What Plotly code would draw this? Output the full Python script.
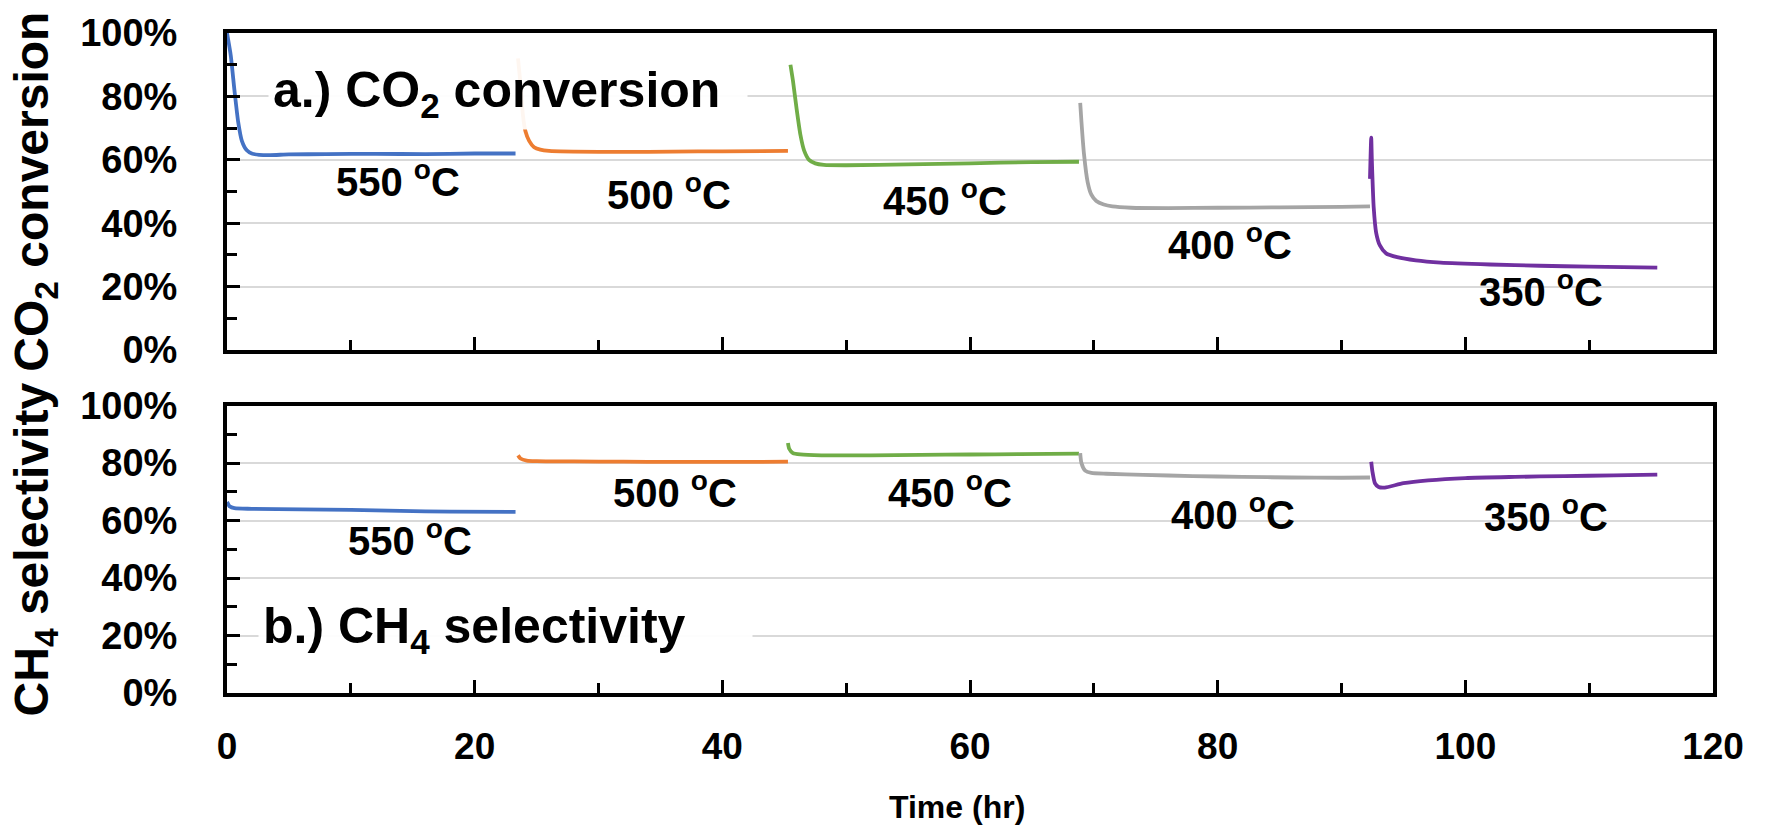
import plotly.graph_objects as go

# ---------------- data ----------------
series_names = ["550 °C", "500 °C", "450 °C", "400 °C", "350 °C"]
colors = ["#4472C4", "#ED7D31", "#70AD47", "#A5A5A5", "#7030A0"]

# (a) CO2 conversion (%)
co2_t_550 = [0.0, 0.3, 0.6, 0.9, 1.2, 1.6, 2.0, 2.6, 3.5, 5, 8, 12, 16, 20, 23.3]
co2_v_550 = [100, 93, 82, 72, 66, 63, 62, 61.6, 61.5, 61.7, 61.8, 61.9, 61.8, 62.0, 62.0]
co2_t_500 = [23.5, 23.7, 23.9, 24.1, 24.4, 24.8, 25.3, 26, 28, 32, 36, 40, 45.3]
co2_v_500 = [92, 84, 74, 69, 66, 64, 63.2, 62.8, 62.6, 62.5, 62.6, 62.7, 62.8]
co2_t_450 = [45.5, 45.7, 46.0, 46.3, 46.6, 47.0, 47.5, 48.2, 50, 55, 60, 65, 68.8]
co2_v_450 = [90, 85, 76, 68, 63, 60, 58.9, 58.4, 58.3, 58.6, 58.9, 59.3, 59.4]
co2_t_400 = [68.9, 69.0, 69.2, 69.5, 69.8, 70.2, 70.8, 71.5, 73, 76, 80, 85, 90, 92.3]
co2_v_400 = [78, 72, 62, 53, 49, 47, 45.9, 45.3, 44.9, 44.8, 44.9, 45.0, 45.2, 45.3]
co2_t_350 = [92.3, 92.4, 92.45, 92.6, 92.8, 93.1, 93.6, 94.5, 96, 98, 102, 106, 110, 115.5]
co2_v_350 = [54, 67, 60, 45, 37, 33, 30.5, 29.3, 28.3, 27.6, 27.0, 26.6, 26.3, 26.0]

# (b) CH4 selectivity (%)
ch4_t_550 = [0.0, 0.2, 0.6, 2, 6, 10, 14, 18, 23.3]
ch4_v_550 = [66.5, 65, 64.3, 64.1, 63.9, 63.7, 63.4, 63.1, 63.0]
ch4_t_500 = [23.5, 23.7, 24.2, 25, 28, 32, 36, 40, 45.3]
ch4_v_500 = [82.7, 81.6, 80.9, 80.7, 80.6, 80.5, 80.4, 80.4, 80.5]
ch4_t_450 = [45.3, 45.4, 45.7, 46.3, 48, 52, 56, 60, 64, 68.8]
ch4_v_450 = [87, 85, 83.5, 83.0, 82.7, 82.7, 82.9, 83.0, 83.1, 83.3]
ch4_t_400 = [68.9, 69.0, 69.3, 69.8, 71, 74, 78, 82, 86, 90, 92.3]
ch4_v_400 = [83.5, 80, 77.4, 76.6, 76.3, 75.9, 75.5, 75.2, 75.0, 74.9, 75.0]
ch4_t_350 = [92.4, 92.5, 92.7, 93.0, 93.5, 95, 97, 100, 104, 108, 112, 115.5]
ch4_v_350 = [80.5, 77, 73, 71.7, 71.5, 73.0, 74.0, 74.8, 75.2, 75.5, 75.7, 76.0]

# label positions (x in hr, y in %)
co2_label_x = [13.8, 35.7, 58.0, 81.0, 106.1]
co2_label_y = [54, 50, 48, 34, 19.4]
ch4_label_x = [14.8, 36.2, 58.4, 81.2, 106.5]
ch4_label_y = [54, 70.7, 70.7, 63.1, 62.4]

x_ticks = [0, 20, 40, 60, 80, 100, 120]
y_ticks = [0, 20, 40, 60, 80, 100]
y_tick_text = ["0%", "20%", "40%", "60%", "80%", "100%"]

co2_t = [co2_t_550, co2_t_500, co2_t_450, co2_t_400, co2_t_350]
co2_v = [co2_v_550, co2_v_500, co2_v_450, co2_v_400, co2_v_350]
ch4_t = [ch4_t_550, ch4_t_500, ch4_t_450, ch4_t_400, ch4_t_350]
ch4_v = [ch4_v_550, ch4_v_500, ch4_v_450, ch4_v_400, ch4_v_350]

FONT = "Liberation Sans, Arial, sans-serif"

fig = go.Figure()
for i in range(5):
    fig.add_trace(go.Scatter(x=co2_t[i], y=co2_v[i], mode="lines",
                             line=dict(color=colors[i], width=3.8, shape="spline", smoothing=0.6),
                             xaxis="x", yaxis="y", showlegend=False, name=series_names[i]))
    fig.add_trace(go.Scatter(x=ch4_t[i], y=ch4_v[i], mode="lines",
                             line=dict(color=colors[i], width=3.8, shape="spline", smoothing=0.6),
                             xaxis="x2", yaxis="y2", showlegend=False, name=series_names[i]))

def temp_text(name):
    num = name.split(" ")[0]
    return f"{num} <sup>o</sup>C"

annotations = []
for i in range(5):
    annotations.append(dict(x=co2_label_x[i], y=co2_label_y[i], xref="x", yref="y",
                            text=temp_text(series_names[i]), showarrow=False,
                            xanchor="center", yanchor="middle",
                            font=dict(family=FONT, size=40, color="black", weight="bold")))
    annotations.append(dict(x=ch4_label_x[i], y=ch4_label_y[i], xref="x2", yref="y2",
                            text=temp_text(series_names[i]), showarrow=False,
                            xanchor="center", yanchor="middle",
                            font=dict(family=FONT, size=40, color="black", weight="bold")))

annotations.append(dict(x=3.3, y=81, xref="x", yref="y", xanchor="left", yanchor="middle",
                        text="a.) CO<sub>2</sub> conversion", showarrow=False, align="left",
                        width=470, bgcolor="rgba(255,255,255,0.93)", borderpad=4,
                        font=dict(family=FONT, size=50, color="black", weight="bold")))
annotations.append(dict(x=2.5, y=22, xref="x2", yref="y2", xanchor="left", yanchor="middle",
                        text="b.) CH<sub>4</sub> selectivity", showarrow=False, align="left",
                        width=485, bgcolor="rgba(255,255,255,0.93)", borderpad=4,
                        font=dict(family=FONT, size=50, color="black", weight="bold")))

# axis titles
annotations.append(dict(x=-0.129, y=0.76, xref="paper", yref="paper", textangle=-90,
                        xanchor="center", yanchor="middle",
                        text="CO<sub>2</sub> conversion", showarrow=False,
                        font=dict(family=FONT, size=48, color="black", weight="bold")))
annotations.append(dict(x=-0.129, y=0.218, xref="paper", yref="paper", textangle=-90,
                        xanchor="center", yanchor="middle",
                        text="CH<sub>4</sub> selectivity", showarrow=False,
                        font=dict(family=FONT, size=48, color="black", weight="bold")))
annotations.append(dict(x=0.491, y=-0.173, xref="paper", yref="paper",
                        xanchor="center", yanchor="middle",
                        text="Time (hr)", showarrow=False,
                        font=dict(family=FONT, size=32, color="black", weight="bold")))

common_x = dict(range=[0, 120], tickvals=x_ticks, ticks="inside", ticklen=13, tickwidth=3,
                tickcolor="black", showline=True, mirror=True, linecolor="black", linewidth=4,
                showgrid=False, zeroline=False,
                minor=dict(ticks="inside", dtick=10, ticklen=10, tickwidth=3, tickcolor="black",
                           showgrid=False),
                tickfont=dict(family=FONT, size=37, color="black", weight="bold"))
common_y = dict(range=[0, 100], tickvals=y_ticks, ticktext=y_tick_text, ticks="inside", ticklen=13,
                tickwidth=3, tickcolor="black", showline=True, mirror=True, linecolor="black",
                linewidth=4, showgrid=True, gridcolor="#d9d9d9", gridwidth=2, zeroline=False,
                minor=dict(ticks="inside", dtick=10, ticklen=10, tickwidth=3, tickcolor="black",
                           showgrid=False),
                ticklabelstandoff=38,
                tickfont=dict(family=FONT, size=38, color="black", weight="bold"))

fig.update_layout(
    width=1766, height=825,
    margin=dict(l=227, r=53, t=27, b=132),
    paper_bgcolor="white", plot_bgcolor="white",
    xaxis=dict(common_x, anchor="y", domain=[0, 1], showticklabels=False),
    xaxis2=dict(common_x, anchor="y2", domain=[0, 1], ticklabelstandoff=18),
    yaxis=dict(common_y, anchor="x", domain=[0.5195, 1]),
    yaxis2=dict(common_y, anchor="x2", domain=[0, 0.4354]),
    annotations=annotations,
)

fig.write_html("out.html", config={"displayModeBar": False},
               post_script="document.body.style.margin='0';document.body.style.overflow='hidden';")
